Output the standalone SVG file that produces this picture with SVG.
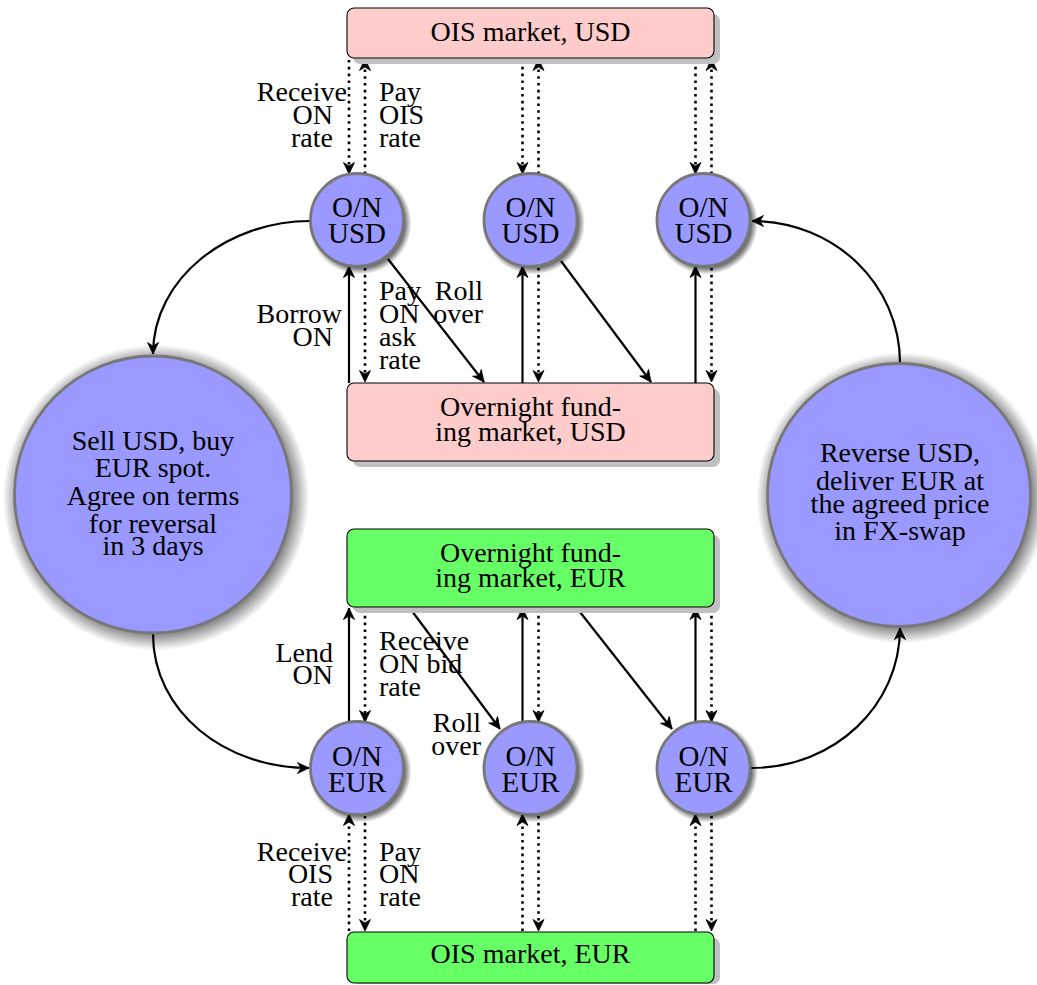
<svg xmlns="http://www.w3.org/2000/svg" width="1037" height="985" viewBox="0 0 1037 985">
<style>
text{font-family:"Liberation Serif","DejaVu Serif","Times New Roman",serif;font-size:28px;fill:#000}
.c{text-anchor:middle}
.e{text-anchor:end}
.n{font-size:29px}
.box{stroke:#000;stroke-width:1.1}
.usd{fill:#ffcccc}
.eur{fill:#66ff66}
.bsh{fill:#c0c0c0}
.node{fill:#9999ff;stroke:#777;stroke-width:2.8}
.csh{fill:url(#sh)}
.s{fill:none;stroke:#000;stroke-width:2.2;marker-end:url(#ah)}
.d{fill:none;stroke:#000;stroke-width:2.6;stroke-dasharray:2.6 4.2;marker-end:url(#ah)}
</style>
<defs>
<marker id="ah" viewBox="-13 -7 14 14" refX="0" refY="0" markerWidth="14" markerHeight="14" markerUnits="userSpaceOnUse" orient="auto">
<path d="M0,0 L-11.5,-5.5 L-8,0 L-11.5,5.5 Z" fill="#000" stroke="#000" stroke-width="0.8" stroke-linejoin="round"/>
</marker>
<radialGradient id="sh">
<stop offset="0" stop-color="#000" stop-opacity="0.55"/>
<stop offset="0.87" stop-color="#000" stop-opacity="0.55"/>
<stop offset="1" stop-color="#000" stop-opacity="0"/>
</radialGradient>
</defs>
<rect width="1037" height="985" fill="#fff"/>

<g id="connectors">
<line class="d" x1="349" y1="60" x2="349" y2="174"/>
<line class="d" x1="365" y1="174" x2="365" y2="59"/>
<line class="d" x1="522.5" y1="60" x2="522.5" y2="174"/>
<line class="d" x1="538.5" y1="174" x2="538.5" y2="59"/>
<line class="d" x1="695.5" y1="60" x2="695.5" y2="174"/>
<line class="d" x1="711.5" y1="174" x2="711.5" y2="59"/>
<line class="s" x1="349" y1="383" x2="349" y2="266"/>
<line class="d" x1="365" y1="268" x2="365" y2="382"/>
<line class="s" x1="522.5" y1="383" x2="522.5" y2="266"/>
<line class="d" x1="538.5" y1="268" x2="538.5" y2="382"/>
<line class="s" x1="695.5" y1="383" x2="695.5" y2="266"/>
<line class="d" x1="711.5" y1="268" x2="711.5" y2="382"/>
<line class="s" x1="388" y1="259" x2="484" y2="382"/>
<line class="s" x1="561" y1="261" x2="651" y2="382"/>
<line class="s" x1="349" y1="722" x2="349" y2="608"/>
<line class="d" x1="365" y1="609" x2="365" y2="722"/>
<line class="s" x1="522.5" y1="722" x2="522.5" y2="608"/>
<line class="d" x1="538.5" y1="609" x2="538.5" y2="722"/>
<line class="s" x1="695.5" y1="722" x2="695.5" y2="608"/>
<line class="d" x1="711.5" y1="609" x2="711.5" y2="722"/>
<line class="s" x1="409" y1="607" x2="500" y2="729"/>
<line class="s" x1="576" y1="607" x2="672" y2="729"/>
<line class="d" x1="349" y1="931" x2="349" y2="814"/>
<line class="d" x1="365" y1="816" x2="365" y2="931"/>
<line class="d" x1="522.5" y1="931" x2="522.5" y2="814"/>
<line class="d" x1="538.5" y1="816" x2="538.5" y2="931"/>
<line class="d" x1="695.5" y1="931" x2="695.5" y2="814"/>
<line class="d" x1="711.5" y1="816" x2="711.5" y2="931"/>
<path class="s" d="M310,221 C228,221 153,278 153,354"/>
<path class="s" d="M153,634 C153,712 225,768 309,768"/>
<path class="s" d="M751,768 C835,768 900,705 900,628"/>
<path class="s" d="M900,363 C900,285 835,221 752,221"/>
</g>

<g id="labels">
<text class="e"><tspan x="347" y="101">Receive</tspan><tspan x="333" y="124">ON</tspan><tspan x="333" y="147">rate</tspan></text>
<text><tspan x="379" y="101">Pay</tspan><tspan x="379" y="124">OIS</tspan><tspan x="379" y="147">rate</tspan></text>

<text class="e"><tspan x="342" y="323">Borrow</tspan><tspan x="333" y="346">ON</tspan></text>
<text><tspan x="379" y="300">Pay</tspan><tspan x="379" y="323">ON</tspan><tspan x="379" y="346">ask</tspan><tspan x="379" y="369">rate</tspan></text>
<text class="e"><tspan x="483" y="300">Roll</tspan><tspan x="483" y="323">over</tspan></text>

<text class="e"><tspan x="333" y="662">Lend</tspan><tspan x="333" y="684">ON</tspan></text>
<text><tspan x="379" y="650">Receive</tspan><tspan x="379" y="673">ON bid</tspan><tspan x="379" y="696">rate</tspan></text>
<text class="e"><tspan x="481" y="732">Roll</tspan><tspan x="481" y="755">over</tspan></text>

<text class="e"><tspan x="347" y="861">Receive</tspan><tspan x="333" y="883">OIS</tspan><tspan x="333" y="906">rate</tspan></text>
<text><tspan x="379" y="861">Pay</tspan><tspan x="379" y="883">ON</tspan><tspan x="379" y="906">rate</tspan></text>
</g>

<g id="ois-usd">
<rect class="bsh" x="353" y="14" width="367" height="50" rx="7"/>
<rect class="box usd" x="347" y="8" width="367" height="50" rx="7"/>
<text class="c" x="530.5" y="41">OIS market, USD</text>
</g>

<g id="funding-usd">
<rect class="bsh" x="353" y="389" width="367" height="78" rx="7"/>
<rect class="box usd" x="347" y="383" width="367" height="78" rx="7"/>
<text class="c"><tspan x="530.5" y="416">Overnight fund-</tspan><tspan x="530.5" y="441">ing market, USD</tspan></text>
</g>

<g id="funding-eur">
<rect class="bsh" x="353" y="535" width="367" height="78" rx="7"/>
<rect class="box eur" x="347" y="529" width="367" height="78" rx="7"/>
<text class="c"><tspan x="530.5" y="562">Overnight fund-</tspan><tspan x="530.5" y="587">ing market, EUR</tspan></text>
</g>

<g id="ois-eur">
<rect class="bsh" x="353" y="938" width="367" height="46" rx="7"/>
<rect class="box eur" x="347" y="932" width="367" height="51" rx="7"/>
<text class="c" x="530.5" y="963">OIS market, EUR</text>
</g>

<g id="on-usd-1">
<circle class="csh" cx="360" cy="223" r="51.5"/>
<circle class="node" cx="357" cy="220" r="46.5"/>
<text class="c n"><tspan x="357" y="217">O/N</tspan><tspan x="357" y="243">USD</tspan></text>
</g>
<g id="on-usd-2">
<circle class="csh" cx="533.5" cy="223" r="51.5"/>
<circle class="node" cx="530.5" cy="220" r="46.5"/>
<text class="c n"><tspan x="530.5" y="217">O/N</tspan><tspan x="530.5" y="243">USD</tspan></text>
</g>
<g id="on-usd-3">
<circle class="csh" cx="706.5" cy="223" r="51.5"/>
<circle class="node" cx="703.5" cy="220" r="46.5"/>
<text class="c n"><tspan x="703.5" y="217">O/N</tspan><tspan x="703.5" y="243">USD</tspan></text>
</g>

<g id="on-eur-1">
<circle class="csh" cx="360" cy="771" r="51.5"/>
<circle class="node" cx="357" cy="768" r="46.5"/>
<text class="c n"><tspan x="357" y="766">O/N</tspan><tspan x="357" y="792">EUR</tspan></text>
</g>
<g id="on-eur-2">
<circle class="csh" cx="533.5" cy="771" r="51.5"/>
<circle class="node" cx="530.5" cy="768" r="46.5"/>
<text class="c n"><tspan x="530.5" y="766">O/N</tspan><tspan x="530.5" y="792">EUR</tspan></text>
</g>
<g id="on-eur-3">
<circle class="csh" cx="706.5" cy="771" r="51.5"/>
<circle class="node" cx="703.5" cy="768" r="46.5"/>
<text class="c n"><tspan x="703.5" y="766">O/N</tspan><tspan x="703.5" y="792">EUR</tspan></text>
</g>

<g id="sell-usd">
<circle class="csh" cx="156" cy="497.5" r="153"/>
<circle class="node" cx="153" cy="494.5" r="138.5"/>
<text class="c"><tspan x="153" y="450">Sell USD, buy</tspan><tspan x="153" y="477">EUR spot.</tspan><tspan x="153" y="505">Agree on terms</tspan><tspan x="153" y="533">for reversal</tspan><tspan x="153" y="555">in 3 days</tspan></text>
</g>

<g id="reverse-usd">
<circle class="csh" cx="902" cy="498" r="145.5"/>
<circle class="node" cx="899" cy="495" r="131.5"/>
<text class="c"><tspan x="900" y="462">Reverse USD,</tspan><tspan x="900" y="490">deliver EUR at</tspan><tspan x="900" y="513">the agreed price</tspan><tspan x="900" y="540">in FX-swap</tspan></text>
</g>
</svg>
